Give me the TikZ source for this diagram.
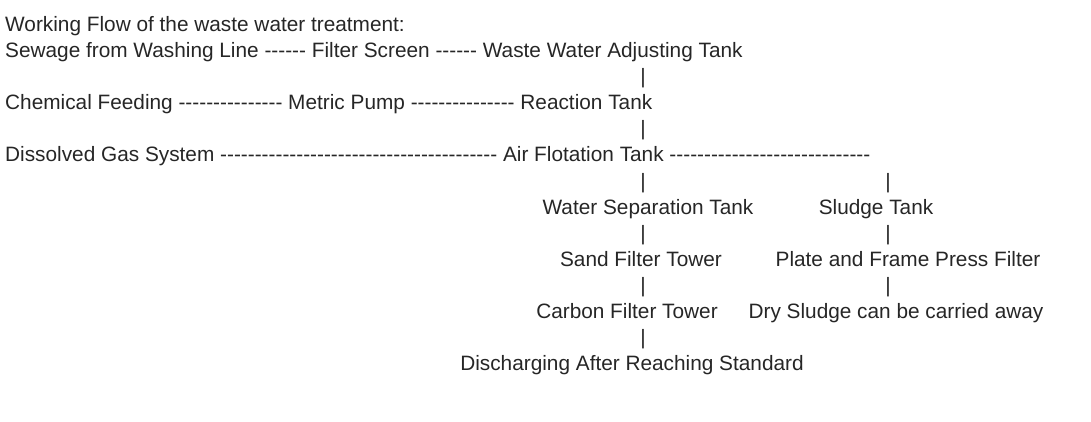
\documentclass[tikz,border=0pt]{standalone}
\usepackage{fontspec}
\setmainfont{Liberation Sans}[Ligatures=TeXOff]
\begin{document}
\begin{tikzpicture}[x=1pt,y=-1pt,
  t/.style={inner sep=0pt,text=black!85,font=\fontsize{20.8}{24}\selectfont},
  l/.style={t,anchor=base west},
  c/.style={t,anchor=base}]
\useasboundingbox (0,0) rectangle (1091,422);
\node[l] (a) at (5,32) {Working Flow of the waste water treatment:};
\node[l] (b) at (5,58) {Sewage from Washing Line ------ Filter Screen ------ Waste Water Adjusting Tank};
\node[c] (b1) at (643,84) {|};
\node[l] (c) at (5,110) {Chemical Feeding --------------- Metric Pump --------------- Reaction Tank};
\node[c] (c1) at (643,136) {|};
\node[l] (d) at (5,162) {Dissolved Gas System ---------------------------------------- Air Flotation Tank -----------------------------};
\node[c] (d1) at (643,188) {|};
\node[c] (d2) at (888,188) {|};
\node[c] (e1) at (648,214) {Water Separation Tank};
\node[c] (e2) at (876,214) {Sludge Tank};
\node[c] (f1) at (643,240) {|};
\node[c] (f2) at (888,240) {|};
\node[c] (g1) at (641,266) {Sand Filter Tower};
\node[c] (g2) at (908,266) {Plate and Frame Press Filter};
\node[c] (h1) at (643,292) {|};
\node[c] (h2) at (888,292) {|};
\node[c] (i1) at (627,318) {Carbon Filter Tower};
\node[c] (i2) at (896,318) {Dry Sludge can be carried away};
\node[c] (j1) at (643,344) {|};
\node[c] (k1) at (632,370) {Discharging After Reaching Standard};
\end{tikzpicture}
\end{document}
